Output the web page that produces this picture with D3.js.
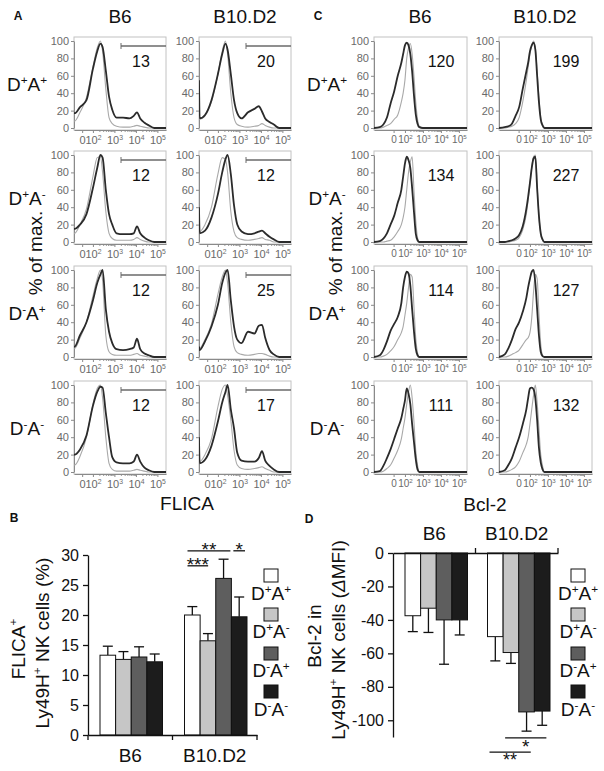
<!DOCTYPE html>
<html><head><meta charset="utf-8">
<script src="https://cdn.jsdelivr.net/npm/d3@7"></script>
<style>
body{margin:0;background:#fff}
svg{display:block;font-family:"Liberation Sans",Arial,Helvetica,sans-serif}
</style>
</head><body>
<svg id="fig" width="604" height="771"></svg>
<script>
// ---------------- DATA ----------------
const strains = ["B6", "B10.D2"];
const subsets = ["D+A+", "D+A-", "D-A+", "D-A-"];

// gated FLICA+ percentages shown in histograms (rows = subsets, cols = strains)
const flicaGatePct = [[13, 20], [12, 12], [12, 25], [12, 17]];
// Bcl-2 MFI shown in histograms
const bcl2MFI = [[120, 199], [134, 227], [114, 127], [111, 132]];

// histogram axes (positions in decades of the display scale)
const histYTicks = [0, 20, 40, 60, 80, 100];
const histTickLabels = ["0", "10^2", "10^3", "10^4", "10^5"];
const flicaTickPos = [1.5, 2, 3, 4, 5];
const bcl2TickPos = [1.37, 2, 3, 4, 5];

// histogram sampling grids (display decades)
const flicaGrid = [1.12, 1.15, 1.4, 1.7, 2.0, 2.2, 2.35, 2.45, 2.6, 2.75, 2.9, 3.1, 3.4, 3.7, 3.9, 4.05, 4.2, 4.4, 4.6, 4.85, 5.4];
const bcl2Grid  = [0.28, 0.6, 0.8, 1.0, 1.2, 1.4, 1.6, 1.8, 1.9, 2.0, 2.1, 2.2, 2.3, 2.4, 2.5, 2.6, 2.7, 2.8, 3.0, 5.45];

// FLICA histograms (% of max), stained and control
const flica_B6_DpAp       = [17, 17, 24, 32, 68, 88, 97, 93, 66, 36, 21, 12, 12, 11, 14, 18, 11, 6, 3, 0, 0];
const flica_B6_DpAp_ctrl  = [8, 8, 18, 35, 70, 92, 100, 88, 45, 12, 5, 2, 1, 1, 2, 3, 2, 1, 0, 0, 0];
const flica_B10_DpAp      = [55, 11, 15, 32, 62, 85, 97, 90, 62, 32, 17, 11, 18, 22, 25, 19, 11, 7, 4, 0, 0];
const flica_B10_DpAp_ctrl = [10, 10, 14, 30, 62, 88, 100, 85, 40, 12, 4, 2, 1, 2, 3, 5, 3, 1, 0, 0, 0];
const flica_B6_DpAm       = [15, 15, 20, 32, 62, 85, 100, 97, 60, 32, 20, 10, 9, 9, 10, 18, 10, 5, 2, 0, 0];
const flica_B6_DpAm_ctrl  = [10, 10, 20, 38, 75, 97, 98, 80, 35, 10, 4, 2, 2, 2, 3, 5, 3, 1, 0, 0, 0];
const flica_B10_DpAm      = [40, 10, 13, 28, 55, 80, 95, 100, 78, 42, 20, 12, 9, 10, 12, 13, 10, 6, 3, 0, 0];
const flica_B10_DpAm_ctrl = [12, 12, 20, 40, 78, 97, 95, 80, 35, 12, 5, 3, 2, 3, 4, 5, 3, 2, 0, 0, 0];
const flica_B6_DmAp       = [12, 12, 25, 40, 65, 85, 95, 100, 55, 29, 16, 9, 8, 9, 11, 21, 9, 4, 2, 0, 0];
const flica_B6_DmAp_ctrl  = [10, 10, 22, 40, 70, 90, 100, 88, 25, 6, 3, 2, 2, 2, 3, 4, 2, 1, 0, 0, 0];
const flica_B10_DmAp      = [12, 8, 18, 35, 60, 85, 97, 100, 65, 35, 20, 16, 29, 27, 36, 37, 22, 8, 3, 0, 0];
const flica_B10_DmAp_ctrl = [10, 10, 20, 38, 72, 92, 100, 85, 40, 12, 5, 3, 2, 3, 4, 4, 3, 1, 0, 0, 0];
const flica_B6_DmAm       = [20, 20, 26, 42, 76, 92, 98, 97, 68, 40, 17, 11, 10, 10, 12, 20, 12, 5, 2, 0, 0];
const flica_B6_DmAm_ctrl  = [8, 8, 18, 40, 78, 96, 100, 85, 40, 10, 3, 1, 1, 1, 2, 3, 2, 1, 0, 0, 0];
const flica_B10_DmAm      = [40, 10, 14, 30, 58, 80, 92, 100, 72, 50, 22, 13, 12, 12, 16, 24, 13, 7, 3, 0, 0];
const flica_B10_DmAm_ctrl = [12, 12, 20, 38, 75, 95, 100, 88, 60, 25, 8, 4, 3, 4, 5, 6, 4, 2, 0, 0, 0];

// Bcl-2 histograms (% of max), stained and control
const bcl2_B6_DpAp       = [0, 1, 4, 12, 28, 42, 60, 75, 85, 95, 98, 95, 85, 65, 38, 16, 5, 1, 0, 0];
const bcl2_B6_DpAp_ctrl  = [0, 0, 1, 3, 5, 10, 15, 30, 40, 55, 80, 92, 97, 85, 60, 30, 10, 2, 0, 0];
const bcl2_B10_DpAp      = [0, 1, 2, 5, 14, 24, 45, 65, 75, 88, 95, 98, 90, 60, 30, 10, 3, 0, 0, 0];
const bcl2_B10_DpAp_ctrl = [0, 0, 1, 2, 5, 12, 30, 55, 70, 85, 95, 100, 92, 65, 35, 12, 4, 1, 0, 0];
const bcl2_B6_DpAm       = [0, 1, 4, 10, 20, 30, 45, 60, 75, 90, 98, 94, 85, 62, 35, 10, 2, 0, 0, 0];
const bcl2_B6_DpAm_ctrl  = [0, 0, 0, 1, 2, 6, 12, 20, 28, 40, 60, 80, 92, 98, 60, 25, 5, 0, 0, 0];
const bcl2_B10_DpAm      = [0, 0, 1, 2, 4, 8, 18, 38, 52, 68, 85, 96, 98, 62, 30, 10, 3, 0, 0, 0];
const bcl2_B10_DpAm_ctrl = [0, 0, 0, 1, 2, 5, 14, 32, 48, 66, 86, 98, 100, 65, 30, 10, 2, 0, 0, 0];
const bcl2_B6_DmAp       = [0, 2, 8, 18, 30, 38, 46, 62, 80, 92, 98, 96, 82, 55, 30, 10, 2, 0, 0, 0];
const bcl2_B6_DmAp_ctrl  = [0, 0, 1, 3, 7, 12, 20, 28, 35, 48, 62, 80, 95, 92, 58, 22, 5, 0, 0, 0];
const bcl2_B10_DmAp      = [0, 3, 10, 20, 32, 40, 52, 68, 80, 90, 98, 100, 85, 55, 25, 6, 1, 0, 0, 0];
const bcl2_B10_DmAp_ctrl = [0, 0, 1, 3, 5, 8, 14, 20, 22, 28, 45, 75, 95, 90, 50, 15, 2, 0, 0, 0];
const bcl2_B6_DmAm       = [0, 1, 7, 16, 26, 38, 50, 62, 72, 82, 96, 90, 78, 55, 35, 15, 3, 0, 0, 0];
const bcl2_B6_DmAm_ctrl  = [0, 0, 1, 4, 8, 16, 25, 38, 50, 62, 78, 92, 100, 85, 58, 25, 8, 0, 0, 0];
const bcl2_B10_DmAm      = [0, 2, 8, 16, 28, 40, 55, 72, 85, 96, 97, 95, 85, 60, 28, 11, 3, 0, 0, 0];
const bcl2_B10_DmAm_ctrl = [0, 0, 1, 3, 6, 12, 22, 32, 40, 55, 72, 88, 100, 80, 50, 20, 7, 0, 0, 0];

// Panel B: FLICA+ Ly49H+ NK cells (%)
const flicaMeanB6  = [13.3, 12.6, 13.0, 12.2];
const flicaErrB6   = [1.5, 1.3, 1.7, 1.3];
const flicaMeanB10 = [20.0, 15.7, 26.1, 19.7];
const flicaErrB10  = [1.4, 1.2, 3.2, 3.3];
const flicaYTicks  = [0, 5, 10, 15, 20, 25, 30];
const flicaSig = [["D+A+", "D+A-", "***"], ["D+A+", "D-A+", "**"], ["D-A+", "D-A-", "*"]];

// Panel D: Bcl-2 in Ly49H+ NK cells (ΔMFI)
const bcl2MeanB6  = [-37.5, -33, -40, -40];
const bcl2ErrB6   = [9.5, 14.5, 26.5, 9];
const bcl2MeanB10 = [-50, -59.5, -95, -94.5];
const bcl2ErrB10  = [14.5, 6.5, 11.5, 8.5];
const bcl2YTicks  = [0, -20, -40, -60, -80, -100];
const bcl2Sig = [["D+A-", "D-A-", "*"], ["D+A+", "D-A+", "**"]];

// ---------------- BUILD ----------------
const flicaHists = [
  [[flica_B6_DpAp, flica_B6_DpAp_ctrl], [flica_B10_DpAp, flica_B10_DpAp_ctrl]],
  [[flica_B6_DpAm, flica_B6_DpAm_ctrl], [flica_B10_DpAm, flica_B10_DpAm_ctrl]],
  [[flica_B6_DmAp, flica_B6_DmAp_ctrl], [flica_B10_DmAp, flica_B10_DmAp_ctrl]],
  [[flica_B6_DmAm, flica_B6_DmAm_ctrl], [flica_B10_DmAm, flica_B10_DmAm_ctrl]]
];
const bcl2Hists = [
  [[bcl2_B6_DpAp, bcl2_B6_DpAp_ctrl], [bcl2_B10_DpAp, bcl2_B10_DpAp_ctrl]],
  [[bcl2_B6_DpAm, bcl2_B6_DpAm_ctrl], [bcl2_B10_DpAm, bcl2_B10_DpAm_ctrl]],
  [[bcl2_B6_DmAp, bcl2_B6_DmAp_ctrl], [bcl2_B10_DmAp, bcl2_B10_DmAp_ctrl]],
  [[bcl2_B6_DmAm, bcl2_B6_DmAm_ctrl], [bcl2_B10_DmAm, bcl2_B10_DmAm_ctrl]]
];
const barColors = ["#ffffff", "#c6c6c6", "#5e5e5e", "#1c1c1c"];

const svg = d3.select("#fig");
const markup = s => s.replace(/([DA])([+\-])/g, "$1^$2");

// rich text: "^x" = superscript char, "~x" = italic char
function rich(textSel, str, fs) {
  const parts = str.split(/(\^.|~.)/).filter(s => s.length);
  let up = false;
  const rise = fs * 0.38;
  parts.forEach(p => {
    let ts;
    if (p.length === 2 && p[0] === "^") {
      ts = textSel.append("tspan").attr("font-size", fs * 0.62).text(p[1]);
      if (!up) ts.attr("dy", -rise);
      up = true;
    } else {
      ts = textSel.append("tspan").text(p.length === 2 && p[0] === "~" ? p[1] : p);
      if (p.length === 2 && p[0] === "~") ts.attr("font-style", "italic");
      if (up) ts.attr("dy", rise);
      up = false;
    }
  });
}
function label(x, y, str, fs, opts = {}) {
  const t = svg.append("text").attr("x", x).attr("y", y)
    .attr("font-size", fs).attr("text-anchor", opts.anchor || "middle")
    .attr("fill", opts.fill || "#111");
  if (opts.weight) t.attr("font-weight", opts.weight);
  if (opts.rotate) t.attr("transform", `rotate(-90 ${x} ${y})`).attr("dy", "0.35em");
  rich(t, str, fs);
  return t;
}

// ---------------- HISTOGRAMS ----------------
const rowTops = [37, 151, 266, 381];
let clipId = 0;
function drawHist(x0, top, w, domain, grid, curves, tickPos, numText, gate, tfs) {
  const g = svg.append("g");
  const x = d3.scaleLinear().domain(domain).range([x0, x0 + w]);
  const y = d3.scaleLinear().domain([0, 100]).range([top + 91, top + 4]);
  const bottom = top + 93;
  g.append("rect").attr("x", x0).attr("y", top).attr("width", w).attr("height", bottom - top)
    .attr("fill", "none").attr("stroke", "#c2c2c2").attr("stroke-width", 1);

  const ya = g.append("g").attr("transform", `translate(${x0},0)`)
    .call(d3.axisLeft(y).tickValues(histYTicks).tickSize(3).tickSizeOuter(0).tickPadding(2));
  ya.select(".domain").attr("stroke", "#8a8a8a");
  ya.selectAll(".tick line").attr("stroke", "#8a8a8a");
  ya.selectAll(".tick text").attr("font-size", 11).attr("fill", "#6a6a6a")
    .attr("font-family", '"Liberation Sans",Arial,sans-serif');

  // minor log ticks
  const minor = [];
  for (let d = 2; d < 5; d++) for (let k = 2; k < 10; k++) minor.push(d + Math.log10(k));
  g.append("g").attr("transform", `translate(0,${bottom})`)
    .call(d3.axisBottom(x).tickValues(minor).tickSize(2).tickSizeOuter(0).tickFormat(""))
    .call(s => { s.select(".domain").remove(); s.selectAll("line").attr("stroke", "#9a9a9a"); });

  const xa = g.append("g").attr("transform", `translate(0,${bottom})`)
    .call(d3.axisBottom(x).tickValues(tickPos).tickSize(3).tickSizeOuter(0).tickPadding(3)
      .tickFormat((d, i) => histTickLabels[i]));
  xa.select(".domain").attr("stroke", "#8a8a8a");
  xa.selectAll(".tick line").attr("stroke", "#8a8a8a");
  xa.selectAll(".tick text").each(function (d, i) {
    const t = d3.select(this);
    t.text(null).attr("font-size", tfs).attr("fill", "#6a6a6a")
      .attr("font-family", '"Liberation Sans",Arial,sans-serif');
    rich(t, histTickLabels[i], tfs);
  });

  const cid = "clip" + (clipId++);
  g.append("clipPath").attr("id", cid).append("rect")
    .attr("x", x0).attr("y", top).attr("width", w).attr("height", bottom - top);
  const line = d3.line().x((d, i) => x(grid[i])).y(d => y(d)).curve(d3.curveMonotoneX);
  const cg = g.append("g").attr("clip-path", `url(#${cid})`);
  cg.append("path").attr("d", line(curves[1])).attr("fill", "none")
    .attr("stroke", "#a9a9a9").attr("stroke-width", 1.1);
  cg.append("path").attr("d", line(curves[0])).attr("fill", "none")
    .attr("stroke", "#2b2b2b").attr("stroke-width", 1.8);

  if (gate) {
    g.append("line").attr("x1", x0 + 47).attr("x2", x0 + w).attr("y1", top + 9).attr("y2", top + 9)
      .attr("stroke", "#6a6a6a").attr("stroke-width", 1.3);
    g.append("line").attr("x1", x0 + 47).attr("x2", x0 + 47).attr("y1", top + 6).attr("y2", top + 12)
      .attr("stroke", "#6a6a6a").attr("stroke-width", 1);
  }
  g.append("text").attr("x", x0 + 67).attr("y", top + 30).attr("text-anchor", "middle")
    .attr("font-size", 16).attr("fill", "#111").text(numText);
}

// Panel A
const flicaCols = [74, 199];
label(18, 20, "A", 12, { weight: "bold" });
strains.forEach((s, j) => label(flicaCols[j] + 46, 23, s, 19));
subsets.forEach((s, i) => label(27, rowTops[i] + 54, markup(s), 19));
label(35, 253, "% of max.", 19, { rotate: true });
label(187, 510, "FLICA", 19);
flicaHists.forEach((row, i) => row.forEach((c, j) =>
  drawHist(flicaCols[j], rowTops[i], 92, [1.12, 5.4], flicaGrid, c, flicaTickPos, flicaGatePct[i][j], true, 11)));

// Panel C
const bcl2Cols = [374, 499];
label(318, 20, "C", 12, { weight: "bold" });
strains.forEach((s, j) => label(bcl2Cols[j] + 46, 23, s, 19));
subsets.forEach((s, i) => label(327, rowTops[i] + 54, markup(s), 19));
label(335, 253, "% of max.", 19, { rotate: true });
label(485, 511, "Bcl-2", 19);
bcl2Hists.forEach((row, i) => row.forEach((c, j) =>
  drawHist(bcl2Cols[j], rowTops[i], 93, [0.28, 5.45], bcl2Grid, c, bcl2TickPos, bcl2MFI[i][j], false, 10)));

// ---------------- BAR CHARTS ----------------
function styleAxis(a, fs) {
  a.select(".domain").attr("stroke", "#111").attr("stroke-width", 1.3);
  a.selectAll(".tick line").attr("stroke", "#111").attr("stroke-width", 1.3);
  a.selectAll(".tick text").attr("font-size", fs).attr("fill", "#111")
    .attr("font-family", '"Liberation Sans",Arial,sans-serif');
}
function legend(cx, boxTops, baselines) {
  subsets.forEach((s, i) => {
    svg.append("rect").attr("x", cx - 7).attr("y", boxTops[i]).attr("width", 14).attr("height", 13)
      .attr("fill", barColors[i]).attr("stroke", "#111").attr("stroke-width", 1);
    label(cx, baselines[i], markup(s), 19);
  });
}
const legendBoxTops = [569, 608, 647, 685];
const legendBaselines = [600, 638, 677, 716];

// Panel B
label(14, 522, "B", 12, { weight: "bold" });
{
  const x = d3.scaleBand().domain(strains).range([88, 257]);
  const sub = d3.scaleBand().domain(subsets).range([12, 74.5]);
  const y = d3.scaleLinear().domain([0, 30]).range([735, 555]);
  const means = [flicaMeanB6, flicaMeanB10], errs = [flicaErrB6, flicaErrB10];
  const g = svg.append("g");
  strains.forEach((s, j) => subsets.forEach((k, i) => {
    const bx = x(s) + sub(k), bw = sub.bandwidth(), m = means[j][i], e = errs[j][i];
    const cx = bx + bw / 2;
    g.append("line").attr("x1", cx).attr("x2", cx).attr("y1", y(m)).attr("y2", y(m + e))
      .attr("stroke", "#111").attr("stroke-width", 1.3);
    g.append("line").attr("x1", cx - 5).attr("x2", cx + 5).attr("y1", y(m + e)).attr("y2", y(m + e))
      .attr("stroke", "#111").attr("stroke-width", 1.3);
    g.append("rect").attr("x", bx).attr("y", y(m)).attr("width", bw).attr("height", y(0) - y(m))
      .attr("fill", barColors[i]).attr("stroke", "#111").attr("stroke-width", 1);
  }));
  const ya = g.append("g").attr("transform", "translate(88,0)")
    .call(d3.axisLeft(y).tickValues(flicaYTicks).tickSize(5).tickSizeOuter(0).tickPadding(4));
  styleAxis(ya, 16);
  const xa = g.append("g").attr("transform", "translate(0,735)")
    .call(d3.axisBottom(x).tickSize(0).tickPadding(14));
  styleAxis(xa, 19);
  [88, x("B10.D2"), 257].forEach(v => g.append("line").attr("x1", v).attr("x2", v)
    .attr("y1", 735).attr("y2", 740).attr("stroke", "#111").attr("stroke-width", 1.3));
  // significance brackets
  const bw = sub.bandwidth(), gx = x("B10.D2");
  const geo = [
    [gx + sub(flicaSig[0][0]) + 3, gx + sub(flicaSig[0][1]) + 8, y(28.2), 571],
    [gx + sub(flicaSig[1][0]) + 3, gx + sub(flicaSig[1][1]) + bw - 1, y(30.7), 556],
    [gx + sub(flicaSig[2][1]) + 2, gx + sub(flicaSig[2][1]) + bw - 2, y(30.7), 556]
  ];
  flicaSig.forEach((s, i) => {
    const [x1, x2, ly, by] = geo[i];
    g.append("line").attr("x1", x1).attr("x2", x2).attr("y1", ly).attr("y2", ly)
      .attr("stroke", "#111").attr("stroke-width", 1.3);
    g.append("text").attr("x", (x1 + x2) / 2).attr("y", by).attr("text-anchor", "middle")
      .attr("font-size", 19).attr("fill", "#111").text(s[2]);
  });
  label(18, 649, "FLICA^+", 19, { rotate: true });
  label(42, 643, "Ly49H^+ NK cells (%)", 19, { rotate: true });
  legend(271, legendBoxTops, legendBaselines);
}

// Panel D
label(309, 523, "D", 12, { weight: "bold" });
{
  const x = d3.scaleBand().domain(strains).range([393, 558]);
  const sub = d3.scaleBand().domain(subsets).range([12, 74.5]);
  const y = d3.scaleLinear().domain([-110, 0]).range([737, 553]);
  const means = [bcl2MeanB6, bcl2MeanB10], errs = [bcl2ErrB6, bcl2ErrB10];
  const g = svg.append("g");
  strains.forEach((s, j) => subsets.forEach((k, i) => {
    const bx = x(s) + sub(k), bw = sub.bandwidth(), m = means[j][i], e = errs[j][i];
    const cx = bx + bw / 2;
    g.append("line").attr("x1", cx).attr("x2", cx).attr("y1", y(m)).attr("y2", y(m - e))
      .attr("stroke", "#111").attr("stroke-width", 1.3);
    g.append("line").attr("x1", cx - 5).attr("x2", cx + 5).attr("y1", y(m - e)).attr("y2", y(m - e))
      .attr("stroke", "#111").attr("stroke-width", 1.3);
    g.append("rect").attr("x", bx).attr("y", y(0)).attr("width", bw).attr("height", y(m) - y(0))
      .attr("fill", barColors[i]).attr("stroke", "#111").attr("stroke-width", 1);
  }));
  const ya = g.append("g").attr("transform", "translate(393,0)")
    .call(d3.axisLeft(y).tickValues(bcl2YTicks).tickSize(5).tickSizeOuter(0).tickPadding(4));
  styleAxis(ya, 16);
  ya.selectAll(".tick text").text(d => d === 0 ? "0" : "-" + Math.abs(d));
  const xa = g.append("g").attr("transform", "translate(0,553)")
    .call(d3.axisTop(x).tickSize(0).tickPadding(13));
  styleAxis(xa, 19);
  [x("B10.D2"), 558].forEach(v => g.append("line").attr("x1", v).attr("x2", v)
    .attr("y1", 553).attr("y2", 548).attr("stroke", "#111").attr("stroke-width", 1.3));
  const bw = sub.bandwidth(), gx = x("B10.D2");
  const geo = [
    [gx + sub(bcl2Sig[0][0]) + 2, gx + sub(bcl2Sig[0][1]) + 12, y(-110.5), 753, 19],
    [gx + sub(bcl2Sig[1][0]) + 2, gx + sub(bcl2Sig[1][1]) + 12, y(-119), 766, 18]
  ];
  bcl2Sig.forEach((s, i) => {
    const [x1, x2, ly, by, fs] = geo[i];
    g.append("line").attr("x1", x1).attr("x2", x2).attr("y1", ly).attr("y2", ly)
      .attr("stroke", "#111").attr("stroke-width", 1.3);
    g.append("text").attr("x", (x1 + x2) / 2).attr("y", by).attr("text-anchor", "middle")
      .attr("font-size", fs).attr("fill", "#111").text(s[2]);
  });
  label(314, 636, "Bcl-2 in", 19, { rotate: true });
  label(338, 640, "Ly49H^+ NK cells (~ΔMFI)", 19, { rotate: true });
  legend(578, legendBoxTops, legendBaselines);
}
</script>
</body></html>
